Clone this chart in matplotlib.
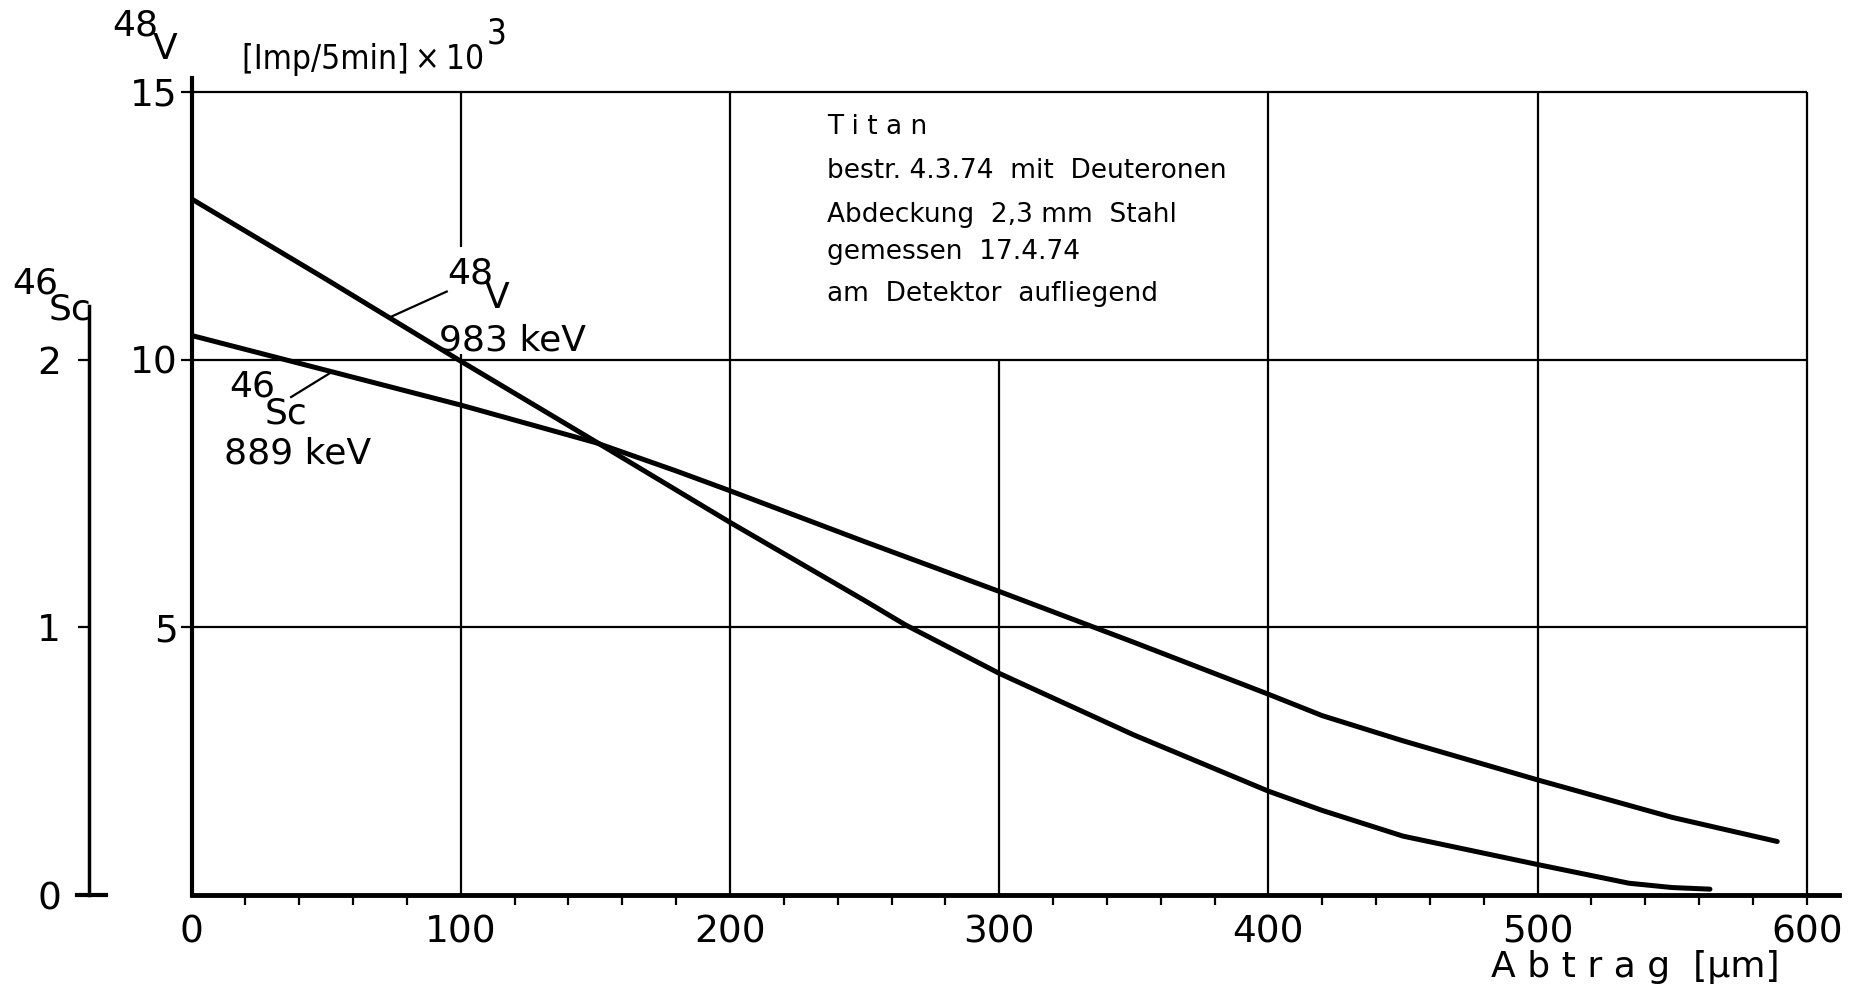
import matplotlib
matplotlib.use('Agg')
import matplotlib.pyplot as plt
from matplotlib.ticker import FixedLocator

plt.rcParams['font.family'] = ['DejaVu Sans']

# Abtrag in µm, 48V 983 keV in [Imp/5min] x 10^3
abtrag_v = [0, 50, 100, 151, 200, 250, 265, 300, 350, 400, 420, 450, 500, 534, 550, 564]
imp_v = [13.0, 11.5, 9.97, 8.44, 6.96, 5.5, 5.05, 4.14, 2.99, 1.94, 1.58, 1.10, 0.57, 0.22, 0.14, 0.11]

# 46Sc 889 keV, eigene Skala links aussen
abtrag_sc = [0, 50, 100, 150, 180, 200, 250, 300, 350, 400, 420, 450, 500, 550, 589]
imp_sc = [2.09, 1.96, 1.83, 1.69, 1.584, 1.51, 1.32, 1.134, 0.944, 0.75, 0.67, 0.576, 0.43, 0.29, 0.20]

x_ticks = [0, 100, 200, 300, 400, 500, 600]
y_ticks_v = [5, 10, 15]
y_ticks_sc = [0, 1, 2]

texto = ['T i t a n', 'bestr. 4.3.74  mit  Deuteronen', 'Abdeckung  2,3 mm  Stahl',
         'gemessen  17.4.74', 'am  Detektor  aufliegend']
texto_y = [14.34, 13.52, 12.70, 12.0, 11.22]

fig = plt.figure(figsize=(18.54, 9.89), dpi=100)
ax = fig.add_axes([0.1033, 0.095, 0.8887, 0.823])
ax.set_xlim(0, 612)
ax.set_ylim(0, 15.2)

# Rahmen
for s in ['top', 'right']:
    ax.spines[s].set_visible(False)
ax.spines['left'].set_linewidth(3)
ax.spines['left'].set_bounds(0, 15.25)
ax.spines['bottom'].set_linewidth(3.5)

# Gitter (von Hand wie in der Zeichnung)
ax.hlines([5, 10, 15], 0, 600, color='black', lw=1.6)
ax.vlines([200, 400, 500, 600], 0, 15, color='black', lw=1.6)
ax.vlines(300, 0, 10, color='black', lw=1.6)
ax.vlines(100, 0, 10.1, color='black', lw=1.6)
ax.vlines(100, 12.1, 15, color='black', lw=1.6)

# Kurven
ax.plot(abtrag_v, imp_v, color='black', lw=3.6, solid_capstyle='round', solid_joinstyle='round')

ax2 = ax.twinx()
ax2.set_position(ax.get_position())
ax2.set_ylim(0, 3.04)
ax2.plot(abtrag_sc, imp_sc, color='black', lw=3.6, solid_capstyle='round', solid_joinstyle='round')
for s in ['top', 'right', 'bottom']:
    ax2.spines[s].set_visible(False)
ax2.yaxis.set_ticks_position('left')
ax2.yaxis.set_label_position('left')
ax2.spines['left'].set_visible(True)
ax2.spines['left'].set_position(('outward', 74))
ax2.spines['left'].set_bounds(0, 2.2)
ax2.spines['left'].set_linewidth(2.5)
ax2.set_yticks(y_ticks_sc)
ax2.tick_params(axis='y', direction='out', length=8, width=1.6, pad=12, labelsize=27)

# Achsen-Ticks
ax.set_xticks(x_ticks)
ax.xaxis.remove_overlapping_locs = False
ax.xaxis.set_minor_locator(FixedLocator([v for v in range(20, 601, 20) if v % 100 != 0] + [600]))
ax.tick_params(axis='x', which='major', length=0, pad=14, labelsize=27)
ax.tick_params(axis='x', which='minor', direction='out', length=7, width=1.6)
ax.set_yticks(y_ticks_v)
ax.tick_params(axis='y', direction='out', length=8, width=1.6, pad=2, labelsize=27)

# Querstrich bei 0 der Sc-Achse
ax.plot([-42.5, -31.7], [0, 0], color='black', lw=3, clip_on=False)

# Beschriftungen ausserhalb
fig.text(0.0728, 0.974, '48', fontsize=26, ha='center', va='center')
fig.text(0.0893, 0.950, 'V', fontsize=26, ha='center', va='center')
einheit = fig.text(0.1307, 0.940, '[Imp/5min]\u2009×\u200910', fontsize=24, ha='left', va='center',
                   fontstretch='condensed')
fig.canvas.draw()
fig.text(einheit.get_window_extent().x1 / fig.bbox.width + 0.001, 0.966, '3',
         fontsize=25, ha='left', va='center', fontstretch='condensed')
fig.text(0.019, 0.713, '46', fontsize=26, ha='center', va='center')
fig.text(0.038, 0.687, 'Sc', fontsize=26, ha='center', va='center')
fig.text(0.96, 0.022, 'A b t r a g  [µm]', fontsize=26, ha='right', va='center')

# Kurvenbeschriftungen
ax.plot([73.7, 94.8], [10.79, 11.27], color='black', lw=1.6)
ax.text(95, 11.6, '48', fontsize=26, ha='left', va='center')
ax.text(109, 11.15, 'V', fontsize=26, ha='left', va='center')
ax.text(92, 10.35, '983 keV', fontsize=26, ha='left', va='center')
ax.plot([52.5, 37], [9.78, 9.3], color='black', lw=1.6)
ax.text(14, 9.5, '46', fontsize=26, ha='left', va='center')
ax.text(27, 9.0, 'Sc', fontsize=26, ha='left', va='center')
ax.text(12, 8.25, '889 keV', fontsize=26, ha='left', va='center')

# Textblock
for zeile, yy in zip(texto, texto_y):
    ax.text(236, yy, zeile, fontsize=19, ha='left', va='center')

fig.savefig('out.png', dpi=100, facecolor='white')
